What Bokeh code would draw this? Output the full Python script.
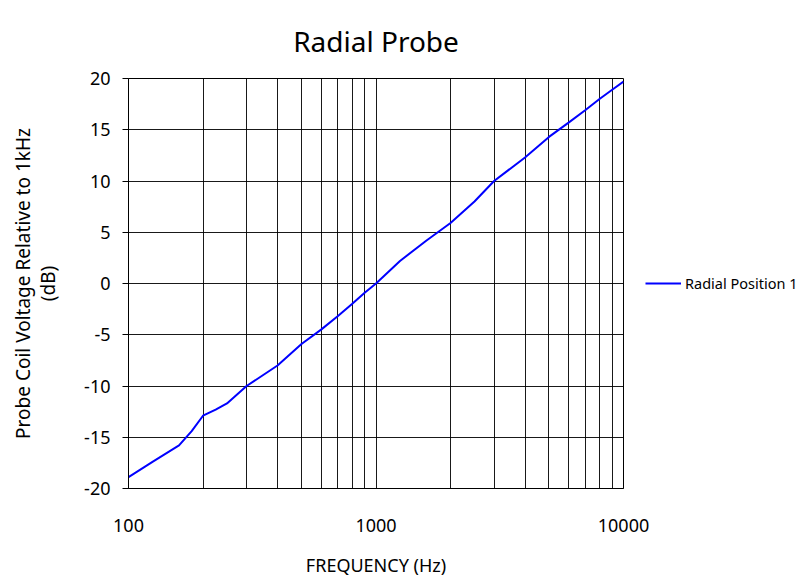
from bokeh.plotting import figure
from bokeh.models import FixedTicker, Legend, LegendItem, Range1d, PrintfTickFormatter
from bokeh.embed import file_html
from bokeh.resources import INLINE

freq = [100, 125, 160, 180, 200, 225, 250, 300, 400, 500, 600, 700, 800, 900, 1000,
        1250, 1600, 2000, 2500, 3000, 4000, 5000, 6000, 7000, 8000, 9000, 10000]
db = [-18.9, -17.4, -15.8, -14.4, -12.9, -12.3, -11.7, -10.0, -8.0, -5.9, -4.5, -3.2, -2.0, -0.9, 0.0,
      2.2, 4.2, 5.9, 8.0, 10.0, 12.3, 14.3, 15.7, 16.9, 18.0, 18.9, 19.7]
series_name = "Radial Position 1"
x_major = [100, 1000, 10000]
x_minor = [200, 300, 400, 500, 600, 700, 800, 900,
           2000, 3000, 4000, 5000, 6000, 7000, 8000, 9000]
y_ticks = [-20, -15, -10, -5, 0, 5, 10, 15, 20]

FONT = "Noto Sans"

p = figure(frame_width=495, frame_height=410, x_axis_type="log",
           x_range=Range1d(100, 10000), y_range=Range1d(-20, 20),
           output_backend="svg", toolbar_location=None,
           min_border_left=128, min_border_right=0,
           min_border_top=78, min_border_bottom=83)

p.title.text = "Radial Probe"
p.title.text_font = FONT
p.title.text_font_size = "28px"
p.title.text_font_style = "normal"
p.title.text_color = "black"
p.title.align = "center"
p.title.offset = 0
p.title.standoff = 38

r = p.line(freq, db, line_color="#0000ff", line_width=2)

p.xaxis.ticker = FixedTicker(ticks=x_major, minor_ticks=x_minor)
p.xaxis.formatter = PrintfTickFormatter(format="%d")
p.xaxis.major_tick_out = 0
p.xaxis.major_tick_in = 0
p.xaxis.minor_tick_out = 0
p.xaxis.minor_tick_in = 0
p.xaxis.major_label_standoff = 30
p.xaxis.axis_label = "FREQUENCY (Hz)"
p.xaxis.axis_label_standoff = 18

p.yaxis.ticker = FixedTicker(ticks=y_ticks)
p.yaxis.formatter = PrintfTickFormatter(format="%d")
p.yaxis.major_tick_out = 6
p.yaxis.major_tick_in = 0
p.yaxis.minor_tick_out = 0
p.yaxis.minor_tick_in = 0
p.yaxis.major_label_standoff = 12
p.yaxis.axis_label = "Probe Coil Voltage Relative to 1kHz\n(dB)"
p.yaxis.axis_label_standoff = 20

for ax in (p.xaxis, p.yaxis):
    ax.axis_line_color = "black"
    ax.major_tick_line_color = "black"
    ax.major_label_text_font = FONT
    ax.major_label_text_font_size = "18px"
    ax.major_label_text_color = "black"
    ax.axis_label_text_font = FONT
    ax.axis_label_text_font_size = "19px"
    ax.axis_label_text_font_style = "normal"
    ax.axis_label_text_color = "black"

p.yaxis.axis_label_text_line_height = 0.95
p.xaxis.axis_label_text_font_size = "18px"

p.xgrid.grid_line_color = "black"
p.xgrid.grid_line_alpha = 0.9
p.xgrid.minor_grid_line_color = "black"
p.xgrid.minor_grid_line_alpha = 0.9
p.ygrid.grid_line_color = "black"
p.ygrid.grid_line_alpha = 0.9

p.outline_line_color = "black"
p.outline_line_alpha = 1.0

legend = Legend(items=[LegendItem(label=series_name, renderers=[r])],
                location="center_left", border_line_color=None,
                background_fill_alpha=0, glyph_width=36, padding=0, margin=22,
                label_text_font=FONT, label_text_font_size="14.5px",
                label_text_color="black", label_standoff=4)
p.add_layout(legend, "right")

open("out.html", "w").write(file_html(p, INLINE))
